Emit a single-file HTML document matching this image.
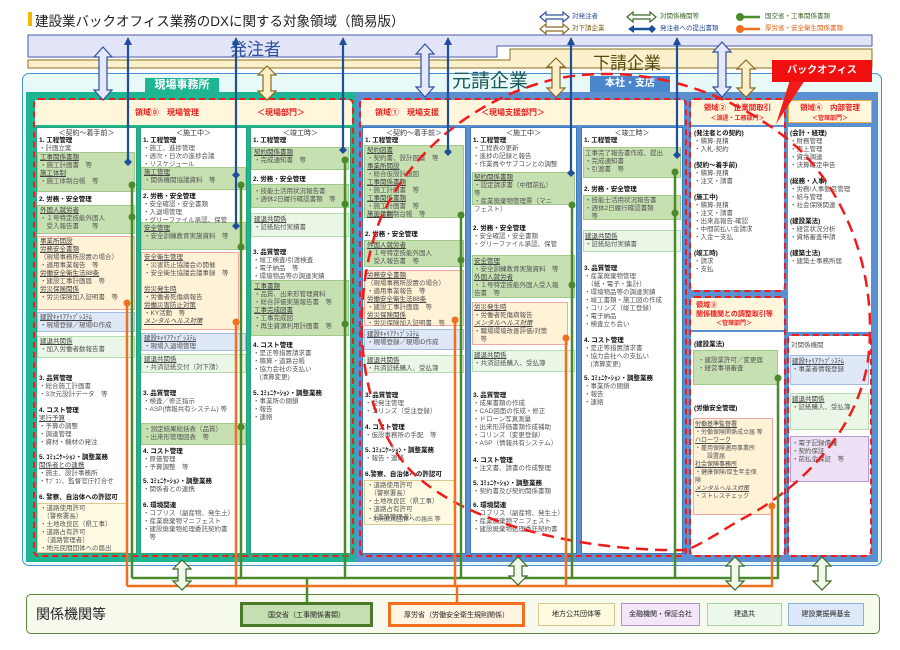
<!DOCTYPE html>
<html><head><meta charset="utf-8">
<style>
*{margin:0;padding:0;box-sizing:border-box}
body{width:900px;height:650px;background:#fff;position:relative;overflow:hidden;font-family:"Liberation Sans","Noto Sans CJK JP",sans-serif}
.a{position:absolute}
.tx{position:absolute;font-size:6.5px;line-height:8px;color:#555;white-space:nowrap}
.tx b{color:#111}
.u{text-decoration:underline;color:#444}
.g{position:absolute;background:#c7e0b2;border:1px solid #a2c88a}
.lg{position:absolute;background:#eaf7e6;border:1px solid #b4dcb0}
.o{position:absolute;background:#fff2d6;border:1px solid #f2a8a0}
.bl{position:absolute;background:#dfe8f7;border:1px solid #a4bce2}
.y{position:absolute;background:#fffbe2;border:1px solid #d8cc90}
.p{position:absolute;background:#ede2f5;border:1px solid #b898d0}
.wc{position:absolute;background:#fff}
.rd{position:absolute;border:2px dashed #f01c1c;border-radius:6px}
.hd{position:absolute;background:#fff6dc;color:#e82020;font-weight:bold;font-size:8px;text-align:center;white-space:nowrap}
.ch{position:absolute;font-size:7px;color:#333;text-align:center}
.lb{position:absolute;font-size:7px;text-align:center;line-height:22px;color:#222}
</style></head><body>

<div class="a" style="left:28px;top:12px;width:4px;height:14px;background:#f5b800"></div>
<div class="a" style="left:35px;top:10px;font-size:13.5px;color:#222;white-space:nowrap">建設業バックオフィス業務のDXに関する対象領域（簡易版）</div>

<div class="tx" style="left:572px;top:13px;color:#2a4a9a">対発注者</div>
<div class="tx" style="left:572px;top:25px;color:#7a5a10">対下請企業</div>
<div class="tx" style="left:660px;top:13px;color:#3a6a2a">対関係機関等</div>
<div class="tx" style="left:660px;top:25px;color:#2a4a9a">発注者への提出書類</div>
<div class="tx" style="left:765px;top:13px;color:#3a6a2a">国交省・工事関係書類</div>
<div class="tx" style="left:765px;top:25px;color:#e06010">厚労省・安全衛生関係書類</div>

<svg class="a" style="left:0;top:0" width="900" height="100">
<polygon points="28,35 872,35 872,46 497,46 497,57 28,57" fill="#e2e5f8" stroke="#4a5aa0" stroke-width="1"/>
<polygon points="28,60 510,60 510,49 872,49 872,68 28,68" fill="#fbf0cc" stroke="#8a7020" stroke-width="1"/>
</svg>
<div class="a" style="left:230px;top:35px;font-size:17px;color:#3050a0">発注者</div>
<div class="a" style="left:593px;top:49px;font-size:17px;color:#5a4a10">下請企業</div>

<div class="a" style="left:22px;top:73px;width:860px;height:493px;background:#e8f9f7;border:1.5px solid #4a90d8;border-radius:7px"></div>
<div class="a" style="left:26px;top:92px;width:330px;height:470px;background:#1db592"></div>
<div class="a" style="left:145px;top:78px;width:74px;height:15px;background:#1db592;color:#fff;font-size:11px;font-weight:bold;text-align:center;line-height:15px">現場事務所</div>
<div class="a" style="left:356px;top:92px;width:522px;height:470px;background:#5b8fcf"></div>
<div class="a" style="left:452px;top:72px;font-size:19px;line-height:20px;color:#1a5a5a">元請企業</div>
<div class="a" style="left:590px;top:76px;width:80px;height:16px;background:#4a86cc;color:#fff;font-size:10px;font-weight:bold;text-align:center;line-height:16px">本社・支店</div>

<div class="hd" style="left:35px;top:100px;width:317px;height:25px;line-height:25px"><span style="position:absolute;left:100px">領域⓪　現場管理</span><span style="position:absolute;left:222px">＜現場部門＞</span></div>
<div class="wc" style="left:36px;top:127px;width:101px;height:427px;border:1px solid #2aa07a"></div>
<div class="wc" style="left:140px;top:127px;width:107px;height:427px;border:1px solid #2aa07a"></div>
<div class="wc" style="left:250px;top:127px;width:101px;height:427px;border:1px solid #2aa07a"></div>
<div class="rd" style="left:33px;top:98px;width:321px;height:459px"></div>

<div class="hd" style="left:361px;top:100px;width:323px;height:25px;line-height:25px"><span style="position:absolute;left:14px">領域①　現場支援</span><span style="position:absolute;left:120px">＜現場支援部門＞</span></div>
<div class="wc" style="left:362px;top:127px;width:104px;height:427px;border:1px solid #3a7ac0"></div>
<div class="wc" style="left:470px;top:127px;width:107px;height:427px;border:1px solid #3a7ac0"></div>
<div class="wc" style="left:581px;top:127px;width:102px;height:427px;border:1px solid #3a7ac0"></div>
<div class="rd" style="left:359px;top:98px;width:328px;height:459px"></div>

<div class="hd" style="left:691px;top:100px;width:93px;height:25px;line-height:10px;padding-top:3px;font-size:7.5px">領域②　企業間取引<br><span style="font-size:6px">＜調達・工務部門＞</span></div>
<div class="wc" style="left:691px;top:127px;width:93px;height:163px"></div>
<div class="rd" style="left:689px;top:98px;width:97px;height:194px"></div>
<div class="hd" style="left:788px;top:100px;width:84px;height:23px;line-height:10px;padding-top:2px;border:1.5px solid #e8b040;font-size:7.5px">領域④　内部管理<br><span style="font-size:6px">＜管理部門＞</span></div>
<div class="wc" style="left:788px;top:127px;width:83px;height:205px"></div>
<div class="hd" style="left:691px;top:298px;width:93px;height:32px;line-height:9px;padding-top:3px;text-align:left;padding-left:5px;font-size:7px">領域③<br>関係機関との調整取引等<br><span style="font-size:6px;padding-left:20px">＜管理部門＞</span></div>
<div class="wc" style="left:691px;top:332px;width:93px;height:223px"></div>
<div class="rd" style="left:689px;top:296px;width:97px;height:261px"></div>
<div class="wc" style="left:789px;top:336px;width:82px;height:219px"></div>
<div class="rd" style="left:787px;top:334px;width:85px;height:223px"></div>

<div class="g" style="left:37px;top:152px;width:98px;height:40px"></div>
<div class="g" style="left:37px;top:205px;width:98px;height:29px"></div>
<div class="o" style="left:37px;top:236px;width:98px;height:74px"></div>
<div class="bl" style="left:37px;top:312px;width:98px;height:20px"></div>
<div class="lg" style="left:37px;top:336px;width:98px;height:22px"></div>
<div class="y" style="left:37px;top:503px;width:91px;height:50px"></div>
<div class="g" style="left:141px;top:167px;width:105px;height:23px"></div>
<div class="g" style="left:141px;top:222px;width:105px;height:28px"></div>
<div class="o" style="left:141px;top:252px;width:98px;height:78px"></div>
<div class="bl" style="left:141px;top:333px;width:105px;height:18px"></div>
<div class="lg" style="left:141px;top:354px;width:105px;height:19px"></div>
<div class="g" style="left:141px;top:423px;width:105px;height:22px"></div>
<div class="g" style="left:251px;top:147px;width:98px;height:23px"></div>
<div class="g" style="left:251px;top:184px;width:98px;height:24px"></div>
<div class="lg" style="left:251px;top:213px;width:98px;height:24px"></div>
<div class="g" style="left:251px;top:280px;width:98px;height:56px"></div>
<div class="g" style="left:364px;top:145px;width:100px;height:73px"></div>
<div class="g" style="left:364px;top:240px;width:100px;height:27px"></div>
<div class="o" style="left:364px;top:270px;width:100px;height:56px"></div>
<div class="bl" style="left:364px;top:329px;width:100px;height:21px"></div>
<div class="lg" style="left:364px;top:355px;width:100px;height:18px"></div>
<div class="y" style="left:364px;top:480px;width:91px;height:45px"></div>
<div class="g" style="left:472px;top:172px;width:103px;height:33px"></div>
<div class="g" style="left:472px;top:255px;width:103px;height:43px"></div>
<div class="o" style="left:472px;top:302px;width:96px;height:43px"></div>
<div class="lg" style="left:472px;top:350px;width:103px;height:22px"></div>
<div class="g" style="left:583px;top:147px;width:98px;height:31px"></div>
<div class="g" style="left:583px;top:195px;width:98px;height:25px"></div>
<div class="lg" style="left:583px;top:230px;width:98px;height:22px"></div>
<div class="g" style="left:693px;top:350px;width:85px;height:35px"></div>
<div class="o" style="left:693px;top:418px;width:80px;height:97px"></div>
<div class="bl" style="left:790px;top:355px;width:79px;height:30px"></div>
<div class="lg" style="left:790px;top:393px;width:79px;height:37px"></div>
<div class="p" style="left:790px;top:436px;width:79px;height:46px"></div>

<div class="ch" style="left:36px;top:128px;width:101px">＜契約～着手前＞</div>
<div class="ch" style="left:140px;top:128px;width:107px">＜施工中＞</div>
<div class="ch" style="left:250px;top:128px;width:101px">＜竣工時＞</div>
<div class="ch" style="left:362px;top:128px;width:104px">＜契約～着手前＞</div>
<div class="ch" style="left:470px;top:128px;width:107px">＜施工中＞</div>
<div class="ch" style="left:581px;top:128px;width:102px">＜竣工時＞</div>

<div class="tx" style="left:39px;top:137px"><b>1. 工程管理</b><br>・計画立案</div>
<div class="tx" style="left:40px;top:154px"><span class="u">工事関係書類</span><br>・施工計画書　等<br><span class="u">施工体制</span><br>・施工体制台帳　等</div>
<div class="tx" style="left:39px;top:196px"><b>2. 労務・安全管理</b></div>
<div class="tx" style="left:40px;top:207px"><span class="u">外国人就労者</span><br>・１号特定技能外国人<br>　受入報告書　　等</div>
<div class="tx" style="left:40px;top:238px"><span class="u">事業所開設</span><br><span class="u">労務安全書類</span><br>（現場事務所設置の場合）<br>・適用事業報告　等<br><span class="u">労働安全衛生法88条</span><br>・建設工事計画届　等<br><span class="u">労災保険関係</span><br>・労災保険加入証明書　等</div>
<div class="tx" style="left:40px;top:314px"><span class="u">建設ｷｬﾘｱｱｯﾌﾟｼｽﾃﾑ</span><br>・現場登録／現場ID作成</div>
<div class="tx" style="left:40px;top:338px"><span class="u">建退共関係</span><br>・加入労働者数報告書</div>
<div class="tx" style="left:39px;top:375px"><b>3. 品質管理</b><br>・総合施工計画書<br>・3次元設計データ　等</div>
<div class="tx" style="left:39px;top:407px"><b>4. コスト管理</b><br><span class="u">実行予算</span><br>・予算の調整<br>・調達管理<br>・資材・機材の発注</div>
<div class="tx" style="left:39px;top:454px"><b>5. ｺﾐｭﾆｹｰｼｮﾝ・調整業務</b><br><span class="u">関係者との連携</span><br>・施主、設計事務所<br>・ｻﾌﾞｺﾝ、監督官庁打合せ</div>
<div class="tx" style="left:39px;top:494px"><b>6. 警察、自治体への許認可</b></div>
<div class="tx" style="left:40px;top:505px">・道路使用許可<br>　（警察署長）<br>・土地改良区（県工事）<br>・道路占有許可<br>　（道路管理者）<br>・地元民間団体への届出</div>

<div class="tx" style="left:143px;top:137px"><b>1. 工程管理</b><br>・施工、進捗管理<br>・週次・日次の進捗会議<br>・リスケジュール</div>
<div class="tx" style="left:144px;top:169px"><span class="u">施工管理</span><br>・関係機関協議資料　等</div>
<div class="tx" style="left:143px;top:193px"><b>2. 労務・安全管理</b><br>・安全確認・安全書類<br>・入退場管理<br>・グリーファイル承認、保管</div>
<div class="tx" style="left:144px;top:225px"><span class="u">安全管理</span><br>・安全訓練教育実施資料　等</div>
<div class="tx" style="left:144px;top:254px"><span class="u">安全衛生管理</span><br>・災害防止協議会の開催<br>・安全衛生協議会議事録　等<br><br><span class="u">労災発生時</span><br>・労働者死傷病報告<br><span class="u">労働災害防止対策</span><br>・KY活動　等<br><span class="u"><i>メンタルヘルス対策</i></span></div>
<div class="tx" style="left:144px;top:335px"><span class="u">建設ｷｬﾘｱｱｯﾌﾟｼｽﾃﾑ</span><br>・現場入退場管理</div>
<div class="tx" style="left:144px;top:356px"><span class="u">建退共関係</span><br>・共済証紙交付（対下請）</div>
<div class="tx" style="left:143px;top:390px"><b>3. 品質管理</b><br>・検査／修正指示<br>・ASP(情報共有システム) 等</div>
<div class="tx" style="left:144px;top:426px">・測定結果総括表（品質）<br>・出来形管理図表　等</div>
<div class="tx" style="left:143px;top:448px"><b>4. コスト管理</b><br>・原価管理<br>・予算調整　等</div>
<div class="tx" style="left:143px;top:478px"><b>5. ｺﾐｭﾆｹｰｼｮﾝ・調整業務</b><br>・関係者との連携</div>
<div class="tx" style="left:143px;top:502px"><b>6. 環境関連</b><br>・コブリス（副産物、発生土）<br>・産業廃棄物マニフェスト<br>・建設廃棄物処理委託契約書<br>　等</div>

<div class="tx" style="left:253px;top:137px"><b>1. 工程管理</b></div>
<div class="tx" style="left:254px;top:149px"><span class="u">契約関係書類</span><br>・完成通知書　等</div>
<div class="tx" style="left:253px;top:176px"><b>2. 労務・安全管理</b></div>
<div class="tx" style="left:254px;top:188px">・技能士活用状況報告書<br>・週休2日履行確認書類　等</div>
<div class="tx" style="left:254px;top:216px"><span class="u">建退共関係</span><br>・証紙貼付実績書</div>
<div class="tx" style="left:253px;top:249px"><b>3. 品質管理</b><br>・竣工検査/引渡検査<br>・電子納品　等<br>・環境物品等の調達実績</div>
<div class="tx" style="left:254px;top:283px"><span class="u">工事書類</span><br>・品質、出来形管理資料<br>・総合評価実施報告書　等<br><span class="u">工事完成図書</span><br>・工事完成図<br>・再生資源利用計画書　等</div>
<div class="tx" style="left:253px;top:342px"><b>4. コスト管理</b><br>・是正等措置請求書<br>・積算・道路台帳<br>・協力会社の支払い<br>　(清算変更)</div>
<div class="tx" style="left:253px;top:390px"><b>5. ｺﾐｭﾆｹｰｼｮﾝ・調整業務</b><br>・事業所の閉鎖<br>・報告<br>・連絡</div>

<div class="tx" style="left:365px;top:137px"><b>1. 工程管理</b></div>
<div class="tx" style="left:367px;top:147px"><span class="u">契約図書</span><br>・契約書、設計図書　等<br><span class="u">事業所開設</span><br>・総合仮設計画図<br><span class="u">工事関係書類</span><br>・施工計画書　等<br><span class="u">工事関係書類</span><br>・施工計画書　等<br><span class="u">施工体制</span></div>
<div class="tx" style="left:367px;top:211px">・施工体制台帳　等</div>
<div class="tx" style="left:365px;top:231px"><b>2. 労務・安全管理</b></div>
<div class="tx" style="left:367px;top:242px"><span class="u">外国人就労者</span><br>・１号特定技能外国人<br>　受入報告書　等</div>
<div class="tx" style="left:367px;top:272px"><span class="u">労務安全書類</span><br>（現場事務所設置の場合）<br>・適用事業報告　等<br><span class="u">労働安全衛生法88条</span><br>・建設工事計画届　等<br><span class="u">労災保険関係</span><br>・労災保険加入証明書　等</div>
<div class="tx" style="left:367px;top:331px"><span class="u">建設ｷｬﾘｱｱｯﾌﾟｼｽﾃﾑ</span><br>・現場登録／現場ID作成</div>
<div class="tx" style="left:367px;top:357px"><span class="u">建退共関係</span><br>・共済証紙購入、受払簿</div>
<div class="tx" style="left:365px;top:392px"><b>3. 品質管理</b><br>・受発注管理<br>・コリンズ（受注登録）</div>
<div class="tx" style="left:365px;top:424px"><b>4. コスト管理</b><br>・仮設事務所の手配　等</div>
<div class="tx" style="left:365px;top:447px"><b>5. ｺﾐｭﾆｹｰｼｮﾝ・調整業務</b><br>・報告・連絡</div>
<div class="tx" style="left:365px;top:471px"><b>6.警察、自治体への許認可</b></div>
<div class="tx" style="left:367px;top:482px">・道路使用許可<br>　（警察署長）<br>・土地改良区（県工事）<br>・道路占有許可<br>　（道路管理者）</div>
<div class="tx" style="left:367px;top:516px;font-size:6px">・地元民間団体への届出 等</div>

<div class="tx" style="left:473px;top:137px"><b>1. 工程管理</b><br>・工程表の更新<br>・進捗の記録と報告<br>・作業員やサブコンとの調整</div>
<div class="tx" style="left:474px;top:174px"><span class="u">契約関係書類</span><br>・認定請求書（中間前払）<br>等<br>・産業廃棄物管理票（マニ</div>
<div class="tx" style="left:474px;top:206px">フェスト）</div>
<div class="tx" style="left:473px;top:225px"><b>2. 労務・安全管理</b><br>・安全確認・安全書類<br>・グリーファイル承認、保管</div>
<div class="tx" style="left:474px;top:258px"><span class="u">安全管理</span><br>・安全訓練教育実施資料　等<br><span class="u">外国人就労者</span><br>・１号特定技能外国人受入報<br>告書　等</div>
<div class="tx" style="left:474px;top:304px"><span class="u">労災発生時</span><br>・労働者死傷病報告<br><span class="u"><i>メンタルヘルス対策</i></span><br>・職場環境改善評価/対策<br>　等</div>
<div class="tx" style="left:474px;top:352px"><span class="u">建退共関係</span><br>・共済証紙購入、受払簿</div>
<div class="tx" style="left:473px;top:392px"><b>3. 品質管理</b><br>・成果書類の作成<br>・CAD図面の作成・修正<br>・ドローン写真測量<br>・出来形評価書類作成補助<br>・コリンズ（変更登録）<br>・ASP（情報共有システム）</div>
<div class="tx" style="left:473px;top:457px"><b>4. コスト管理</b><br>・注文書、請書の作成整理</div>
<div class="tx" style="left:473px;top:480px"><b>5. ｺﾐｭﾆｹｰｼｮﾝ・調整業務</b><br>・契約書及び契約関係書類</div>
<div class="tx" style="left:473px;top:502px"><b>6. 環境関連</b><br>・コブリス（副産物、発生土）<br>・産業廃棄物マニフェスト<br>・建設廃棄物処理委託契約書</div>

<div class="tx" style="left:584px;top:137px"><b>1. 工程管理</b></div>
<div class="tx" style="left:585px;top:150px">工事完了報告書作成、提出<br>・完成通知書<br>・引渡書　等</div>
<div class="tx" style="left:584px;top:186px"><b>2. 労務・安全管理</b></div>
<div class="tx" style="left:585px;top:197px">・技能士活用状況報告書<br>・週休2日履行確認書類<br>　等</div>
<div class="tx" style="left:585px;top:233px"><span class="u">建退共関係</span><br>・証紙貼付実績書</div>
<div class="tx" style="left:584px;top:265px"><b>3. 品質管理</b><br>・産業廃棄物管理<br>　（紙・電子・集計）<br>・環境物品等の調達実績<br>・竣工書類・施工図の作成<br>・コリンズ（竣工登録）<br>・電子納品<br>・検査立ち会い</div>
<div class="tx" style="left:584px;top:337px"><b>4. コスト管理</b><br>・是正等措置請求書<br>・協力会社への支払い<br>　(清算変更)</div>
<div class="tx" style="left:584px;top:375px"><b>5. ｺﾐｭﾆｹｰｼｮﾝ・調整業務</b><br>・事業所の閉鎖<br>・報告<br>・連絡</div>

<div class="tx" style="left:694px;top:130px"><b>(発注者との契約)</b><br>・積算-見積<br>・入札-契約<br><br><b>(契約～着手前)</b><br>・積算-見積<br>・注文・請書<br><br><b>(施工中)</b><br>・積算-見積<br>・注文・請書<br>・出来高報告-確認<br>・中間前払い金請求<br>・入金ー支払<br><br><b>(竣工時)</b><br>・請求<br>・支払</div>
<div class="tx" style="left:790px;top:130px"><b>(会計・経理)</b><br>・財務管理<br>・売上管理<br>・資金調達<br>・決算確定申告<br><br><b>(総務・人事)</b><br>・労務/人事勤怠管理<br>・給与管理<br>・社会保険関連<br><br><b>(建設業法)</b><br>・経営状況分析<br>・資格審査申請<br><br><b>(建築士法)</b><br>・建築士事務所届</div>
<div class="tx" style="left:694px;top:341px"><b>(建設業法)</b></div>
<div class="tx" style="left:698px;top:357px">・建設業許可／変更届<br>・経営事項審査</div>
<div class="tx" style="left:694px;top:405px"><b>(労働安全管理)</b></div>
<div class="tx" style="left:695px;top:421px;font-size:6px"><span class="u">労働基準監督署</span><br>・労働保険関係成立届 等<br><span class="u">ハローワーク</span><br>・雇用保険適用事業所<br>　　設置届<br><span class="u">社会保険事務所</span><br>・健康保険/厚生年金保<br>険<br><span class="u"><i>メンタルヘルス対策</i></span><br>・ストレスチェック</div>
<div class="tx" style="left:791px;top:342px">対関係機関</div>
<div class="tx" style="left:792px;top:358px"><span class="u">建設ｷｬﾘｱｱｯﾌﾟｼｽﾃﾑ</span><br>・事業者情報登録</div>
<div class="tx" style="left:792px;top:396px"><span class="u">建退共関係</span><br>・証紙購入、受払簿</div>
<div class="tx" style="left:792px;top:440px">・電子記録債権<br>・契約保証<br>・前払金保証　等</div>

<div class="a" style="left:26px;top:594px;width:854px;height:40px;background:#f6fbee;border:1.5px solid #5a8a3a;border-radius:5px"></div>
<div class="a" style="left:36px;top:604px;font-size:14px;color:#222">関係機関等</div>
<div class="lb" style="left:240px;top:602px;width:133px;height:25px;background:#c6dfb2;border:3px solid #4a7a2a">国交省（工事関係書類）</div>
<div class="lb" style="left:388px;top:602px;width:137px;height:25px;background:#fff4e2;border:3px solid #f07020">厚労省（労働安全衛生規則関係）</div>
<div class="lb" style="left:538px;top:603px;width:77px;height:23px;background:#fffbe0;border:1px solid #d8c890">地方公共団体等</div>
<div class="lb" style="left:621px;top:603px;width:79px;height:23px;background:#f2e6f8;border:1px solid #b090d0">金融機関・保証会社</div>
<div class="lb" style="left:707px;top:603px;width:75px;height:23px;background:#ebf8ea;border:1px solid #a8d0a0">建退共</div>
<div class="lb" style="left:788px;top:603px;width:76px;height:23px;background:#dde8f8;border:1px solid #90b0d8">建設業振興基金</div>

<svg class="a" style="left:0;top:0" width="900" height="650">
<path d="M686,550 C600,552 470,530 410,470 C355,410 350,300 380,220 C410,150 480,95 560,78 C650,62 740,95 800,150 C850,200 878,280 868,360 C858,430 800,490 740,520 C715,535 700,545 686,550" fill="none" stroke="#f01c1c" stroke-width="2.5" stroke-dasharray="12,7"/>
<g stroke="#4a8a2a" stroke-width="2.5" fill="none">
<path d="M132,185 V578 M241,185 V578 M345,160 V578 M461,215 V578 M572,205 V578 M675,172 V578 M778,378 V578 M132,578 H779 M307,578 V603"/>
</g>
<g fill="#4a8a2a">
<circle cx="132" cy="185" r="3.5"/><circle cx="132" cy="217" r="3.5"/>
<circle cx="241" cy="185" r="3.5"/><circle cx="241" cy="247" r="3.5"/><circle cx="241" cy="427" r="3.5"/>
<circle cx="345" cy="160" r="3.5"/><circle cx="345" cy="204" r="3.5"/><circle cx="345" cy="324" r="3.5"/>
<circle cx="461" cy="215" r="3.5"/><circle cx="461" cy="260" r="3.5"/>
<circle cx="572" cy="205" r="3.5"/><circle cx="572" cy="285" r="3.5"/>
<circle cx="675" cy="172" r="3.5"/><circle cx="675" cy="213" r="3.5"/>
<circle cx="778" cy="378" r="3.5"/>
</g>
<g stroke="#f07020" stroke-width="2.5" fill="none">
<path d="M127,303 V586 M236,322 V586 M455,320 V586 M566,338 V586 M772,506 V586 M127,586 H773 M457,586 V603"/>
</g>
<g fill="#f07020">
<circle cx="127" cy="303" r="3.5"/><circle cx="236" cy="322" r="3.5"/><circle cx="455" cy="320" r="3.5"/><circle cx="566" cy="338" r="3.5"/><circle cx="772" cy="506" r="3.5"/>
</g>
<g stroke="#1f4e9a" stroke-width="2.2" fill="none">
<path d="M128,162 V44"/><path d="M236,226 V44"/><path d="M343,150 V44"/><path d="M448,152 V44"/><path d="M571,173 V44"/><path d="M677,155 V44"/>
</g>
<g fill="#1f4e9a">
<polygon points="128,158 132,162 128,166 124,162"/>
<polygon points="236,171 240,175 236,179 232,175"/>
<polygon points="236,222 240,226 236,230 232,226"/>
<polygon points="343,146 347,150 343,154 339,150"/>
<polygon points="448,148 452,152 448,156 444,152"/>
<polygon points="571,169 575,173 571,177 567,173"/>
<polygon points="677,151 681,155 677,159 673,155"/>
<polygon points="124,45 128,37 132,45"/><polygon points="232,45 236,37 240,45"/><polygon points="339,45 343,37 347,45"/><polygon points="444,45 448,37 452,45"/><polygon points="567,45 571,37 575,45"/><polygon points="673,45 677,37 681,45"/>
</g>
<g stroke-width="1.2">
<polygon fill="#e4e8fa" stroke="#3050a0" points="103,47 112,57 107,57 107,90 112,90 103,100 94,90 99,90 99,57 94,57"/>
<polygon fill="#e4e8fa" stroke="#3050a0" points="425,44 434,54 429,54 429,87 434,87 425,97 416,87 421,87 421,54 416,54"/>
<polygon fill="#e4e8fa" stroke="#3050a0" points="722,42 731,52 726,52 726,87 731,87 722,97 713,87 718,87 718,52 713,52"/>
<polygon fill="#fdf0c8" stroke="#8a6a20" points="267,66 276,75 271,75 271,91 276,91 267,100 258,91 263,91 263,75 258,75"/>
<polygon fill="#fdf0c8" stroke="#8a6a20" points="556,58 565,67 560,67 560,88 565,88 556,97 547,88 552,88 552,67 547,67"/>
<polygon fill="#fdf0c8" stroke="#8a6a20" points="746,60 755,69 750,69 750,88 755,88 746,97 737,88 742,88 742,69 737,69"/>
<polygon fill="#f2f9ea" stroke="#3a6a2a" points="182,560 191,569 186,569 186,581 191,581 182,590 173,581 178,581 178,569 173,569"/>
<polygon fill="#f2f9ea" stroke="#3a6a2a" points="518,557 527,566 522,566 522,576 527,576 518,585 509,576 514,576 514,566 509,566"/>
<polygon fill="#f2f9ea" stroke="#3a6a2a" points="735,557 744,566 739,566 739,581 744,581 735,590 726,581 731,581 731,566 726,566"/>
<polygon fill="#f2f9ea" stroke="#3a6a2a" points="822,557 831,566 826,566 826,581 831,581 822,590 813,581 818,581 818,566 813,566"/>
<polygon fill="#fff" stroke="#3050a0" points="540,17 546,12 546,15 563,15 563,12 569,17 563,22 563,19 546,19 546,22"/>
<polygon fill="#fff" stroke="#8a6a20" points="540,29 546,24 546,27 563,27 563,24 569,29 563,34 563,31 546,31 546,34"/>
<polygon fill="#fff" stroke="#3a6a2a" points="627,17 633,12 633,15 650,15 650,12 656,17 650,22 650,19 633,19 633,22"/>
</g>
<path d="M630,29 H652" stroke="#1f4e9a" stroke-width="2.5"/>
<polygon points="628,29 634,25 634,33" fill="#1f4e9a"/><polygon points="656,29 652,25 648,29 652,33" fill="#1f4e9a"/>
<path d="M740,17 H760" stroke="#4a8a2a" stroke-width="2.5"/><circle cx="740" cy="17" r="4" fill="#4a8a2a"/>
<path d="M740,29 H760" stroke="#f07020" stroke-width="2.5"/><circle cx="740" cy="29" r="4" fill="#f07020"/>
<polygon points="790,80 805,80 776,124" fill="#f01c1c"/>
</svg>
<div class="a" style="left:772px;top:60px;width:100px;height:22px;background:#f01010;color:#fff;font-size:10px;font-weight:bold;text-align:center;line-height:22px">バックオフィス</div>

</body></html>
